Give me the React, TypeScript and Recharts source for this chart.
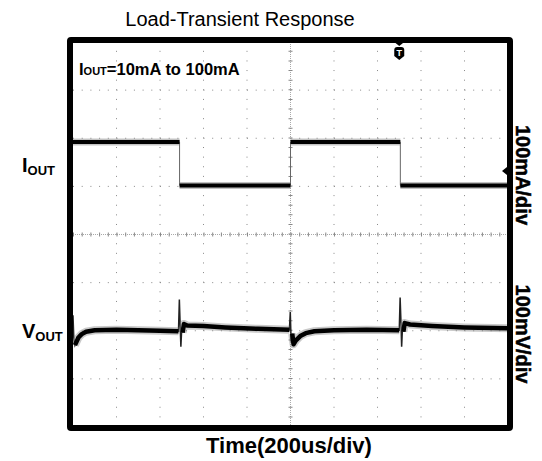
import React from 'react';
import { LineChart, Line, XAxis, YAxis, ReferenceLine, ReferenceDot } from 'recharts';

// time base: 200us/div, 10 divisions
const timeEdgesUs = [0, 490, 1000, 1505, 2000];
const ioutLevelsMa = [100, 10, 100, 10];

// Vout deviation from nominal (mV), 100mV/div
const voutTimesUs = [
  0, 4, 9, 16, 25, 40, 60, 100, 200, 300, 400, 485,
  489, 492, 496, 500, 504, 510, 525, 600, 700, 850, 995,
  999, 1003, 1008, 1014, 1025, 1045, 1070, 1110, 1200, 1350, 1500,
  1504, 1508, 1511, 1515, 1519, 1525, 1550, 1650, 1800, 2000,
];
const voutMv = [
  30, -20, -32, -25, -16, -9, -4, -1, 0, -1, -2, -3,
  63, 20, -35, 4, -6, 12, 9, 8, 5, 2, 0,
  37, -25, -8, -30, -22, -13, -7, -3, -1, 0, -1,
  67, 15, -35, 6, -4, 14, 11, 8, 5, 3,
];
// ringing windows drawn with a thin trace
const spikeStartUs = [0, 489, 999, 1504];
const spikeEndUs = [4, 500, 1003, 1515];

const gridTimesUs = [200, 400, 600, 800, 1200, 1400, 1600, 1800];
const gridDivs = [-3, -2, -1, 1, 2, 3];

const triggerUs = 1500;
const triggerLevelMa = 40;

// channel positions on screen (divisions)
const ioutOffsetDiv = 0.92;
const voutOffsetDiv = -1.98;

const ioutStep = timeEdgesUs.slice(0, -1).flatMap((t, i) => [
  { t, y: ioutOffsetDiv + ioutLevelsMa[i] / 100 },
  { t: timeEdgesUs[i + 1], y: ioutOffsetDiv + ioutLevelsMa[i] / 100 },
]);
const ioutFlat = timeEdgesUs.slice(0, -1).flatMap((t, i) => [
  { t, y: ioutOffsetDiv + ioutLevelsMa[i] / 100 },
  { t: timeEdgesUs[i + 1], y: ioutOffsetDiv + ioutLevelsMa[i] / 100 },
  { t: timeEdgesUs[i + 1], y: null },
]);
const inSpike = (t: number) => spikeStartUs.some((s, i) => t >= s && t <= spikeEndUs[i]);
const voutData = voutTimesUs.map((t, i) => ({ t, y: voutOffsetDiv + voutMv[i] / 100 }));
const voutFlat = voutData.map((p) => ({ t: p.t, y: inSpike(p.t) ? null : p.y }));

const font = '"Liberation Sans", Arial, sans-serif';

const TriggerMark = (props: any) => {
  const { cx, cy } = props;
  return (
    <g>
      <path d={`M${cx - 5},${cy} L${cx + 5},${cy} L${cx},${cy + 4} Z`} fill="#000" />
      <path
        d={`M${cx - 5},${cy + 8} Q${cx - 5},${cy + 5} ${cx - 2},${cy + 5} L${cx + 2},${cy + 5} Q${cx + 5},${cy + 5} ${cx + 5},${cy + 8} L${cx + 5},${cy + 14} L${cx},${cy + 18} L${cx - 5},${cy + 14} Z`}
        fill="#000"
      />
      <text x={cx} y={cy + 14} textAnchor="middle" fontSize={9} fontWeight="bold" fill="#fff" fontFamily={font}>
        T
      </text>
    </g>
  );
};

const LevelMark = (props: any) => {
  const { cx, cy } = props;
  return <path d={`M${cx - 6},${cy} L${cx - 1},${cy - 4} L${cx - 1},${cy + 4} Z`} fill="#000" />;
};

const bold = { fontWeight: 700 } as React.CSSProperties;

export default function App() {
  return (
    <div style={{ position: 'fixed', left: 0, top: 0, width: 542, height: 461, background: '#fff' }}>
      <LineChart width={542} height={461} margin={{ top: 42, right: 34, bottom: 34, left: 73 }}>
        <XAxis type="number" dataKey="t" domain={[0, 2000]} hide allowDataOverflow />
        <YAxis type="number" dataKey="y" domain={[-4, 4]} hide allowDataOverflow />
        {gridDivs.map((d) => (
          <ReferenceLine key={'h' + d} y={d} stroke="#888" strokeDasharray="1 7.7" />
        ))}
        {gridTimesUs.map((t) => (
          <ReferenceLine key={'v' + t} x={t} stroke="#888" strokeDasharray="1 8.62" />
        ))}
        <ReferenceLine y={0} stroke="#aaa" strokeDasharray="1 1" />
        <ReferenceLine y={0} stroke="#888" strokeWidth={4} strokeDasharray="1 7.7" />
        <ReferenceLine x={1000} stroke="#aaa" strokeDasharray="1 1" />
        <ReferenceLine x={1000} stroke="#888" strokeWidth={4} strokeDasharray="1 8.62" />

        <Line data={ioutStep} dataKey="y" type="linear" stroke="#666" strokeWidth={1} dot={false} isAnimationActive={false} />
        <Line data={ioutFlat} dataKey="y" type="linear" stroke="#888" strokeWidth={7} strokeOpacity={0.5} dot={false} connectNulls={false} isAnimationActive={false} />
        <Line data={ioutFlat} dataKey="y" type="linear" stroke="#000" strokeWidth={4} dot={false} connectNulls={false} isAnimationActive={false} />

        <Line data={voutData} dataKey="y" type="linear" stroke="#222" strokeWidth={1.5} dot={false} isAnimationActive={false} />
        <Line data={voutFlat} dataKey="y" type="linear" stroke="#888" strokeWidth={8} strokeOpacity={0.45} strokeLinejoin="round" dot={false} connectNulls={false} isAnimationActive={false} />
        <Line data={voutFlat} dataKey="y" type="linear" stroke="#000" strokeWidth={4.5} strokeLinejoin="round" dot={false} connectNulls={false} isAnimationActive={false} />

        <ReferenceDot x={triggerUs} y={4} r={0} shape={TriggerMark} ifOverflow="visible" />
        <ReferenceDot x={2000} y={ioutOffsetDiv + triggerLevelMa / 100} r={0} shape={LevelMark} ifOverflow="visible" />
      </LineChart>

      <div
        style={{
          position: 'absolute',
          left: 67,
          top: 37,
          width: 446,
          height: 394,
          boxSizing: 'border-box',
          border: '6px solid #000',
          borderRadius: 4,
        }}
      />

      <svg width={542} height={461} style={{ position: 'absolute', left: 0, top: 0, pointerEvents: 'none' }} fontFamily={font}>
        <text x={240} y={26} textAnchor="middle" fontSize={20} fill="#000">
          Load-Transient Response
        </text>
        <text x={79} y={75} fontSize={16.5} style={bold} fill="#000">
          I<tspan fontSize={11}>OUT</tspan>=10mA to 100mA
        </text>
        <text x={22} y={172} fontSize={20} style={bold} fill="#000">
          I<tspan fontSize={13} dy={3}>OUT</tspan>
        </text>
        <text x={22} y={338} fontSize={20} style={bold} fill="#000">
          V<tspan fontSize={13} dy={3}>OUT</tspan>
        </text>
        <text x={523} y={175} textAnchor="middle" dominantBaseline="central" fontSize={20} style={bold} fill="#000" stroke="#000" strokeWidth={0.5} transform="rotate(90 523 175)">
          100mA/div
        </text>
        <text x={523} y={334} textAnchor="middle" dominantBaseline="central" fontSize={20} style={bold} fill="#000" stroke="#000" strokeWidth={0.5} transform="rotate(90 523 334)">
          100mV/div
        </text>
        <text x={289} y={453} textAnchor="middle" fontSize={22} style={bold} fill="#000">
          Time(200us/div)
        </text>
      </svg>
    </div>
  );
}
